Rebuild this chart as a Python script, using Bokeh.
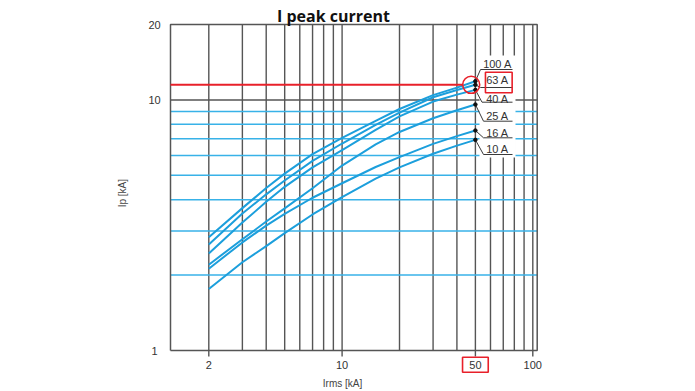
from bokeh.plotting import figure
from bokeh.models import Range1d
from bokeh.core.properties import value
from bokeh.embed import file_html
from bokeh.resources import INLINE
import math

# ---- data ----
irms = [2, 3, 4, 5, 7, 10, 15, 20, 30, 40, 50]
ip_100 = [2.83, 3.70, 4.45, 5.08, 6.08, 7.05, 8.25, 9.2, 10.45, 11.2, 11.88]
ip_63 = [2.65, 3.52, 4.20, 4.77, 5.71, 6.7, 7.95, 8.9, 10.25, 10.95, 11.49]
ip_40 = [2.44, 3.24, 3.92, 4.50, 5.38, 6.31, 7.6, 8.6, 9.85, 10.5, 10.97]
ip_25 = [2.20, 2.78, 3.27, 3.69, 4.44, 5.47, 6.65, 7.45, 8.45, 9.1, 9.59]
ip_16 = [2.12, 2.70, 3.15, 3.51, 4.07, 4.65, 5.40, 5.91, 6.68, 7.17, 7.55]
ip_10 = [1.76, 2.25, 2.61, 2.94, 3.49, 4.09, 4.85, 5.38, 6.1, 6.57, 6.93]
series = [ip_100, ip_63, ip_40, ip_25, ip_16, ip_10]
ratings = ["100 A", "63 A", "40 A", "25 A", "16 A", "10 A"]

x_ticks = [2, 10, 50, 100]
x_tick_labels = ["2", "10", "50", "100"]
y_ticks = [1, 10, 20]
y_tick_labels = ["1", "10", "20"]
x_grid = [2, 3, 4, 5, 6, 7, 8, 9, 10, 20, 30, 40, 50, 60, 70, 80, 90, 100]
y_grid_blue = [2, 3, 4, 5, 6, 7, 8, 9]
y_grid_dark = [10]
highlight_irms = 50
title = "I peak current"
x_label = "Irms [kA]"
y_label = "Ip [kA]"

# ---- geometry (pixel calibration of the log axes) ----
W, H = 695, 391
dec_x = (532.3 - 208.3) / math.log10(50)
lx0 = math.log10(2) - 208.3 / dec_x
dec_y = (350 - 24) / math.log10(20)


def fx(px):
    return 10 ** (lx0 + px / dec_x)


def fy(py):
    return 10 ** ((350 - py) / dec_y)


x_lo, x_hi = fx(170), fx(536.7)
y_lo, y_hi = 1, 20

BLUE = "#1c9fdc"
GRID_BLUE = "#38b2e8"
DARK = "#555555"
TXT = "#333333"
RED = "#e8202a"
FONT = value("Liberation Sans")

p = figure(width=W, height=H, x_axis_type="log", y_axis_type="log",
           x_range=Range1d(fx(0), fx(W)), y_range=Range1d(fy(H), fy(0)),
           x_axis_location=None, y_axis_location=None,
           output_backend="svg", toolbar_location=None, min_border=0)
p.outline_line_color = None
p.background_fill_color = "white"
p.border_fill_color = "white"
p.xgrid.visible = False
p.ygrid.visible = False

# grid lines
p.segment(x0=x_grid, y0=[y_lo] * len(x_grid), x1=x_grid, y1=[y_hi] * len(x_grid),
          line_color=DARK, line_width=1.4)
p.segment(x0=[x_lo] * len(y_grid_blue), y0=y_grid_blue,
          x1=[x_hi] * len(y_grid_blue), y1=y_grid_blue,
          line_color=GRID_BLUE, line_width=1.5)
p.segment(x0=[x_lo] * len(y_grid_dark), y0=y_grid_dark,
          x1=[x_hi] * len(y_grid_dark), y1=y_grid_dark,
          line_color=DARK, line_width=1.4)
# frame box
p.line([x_lo, x_hi, x_hi, x_lo, x_lo], [y_lo, y_lo, y_hi, y_hi, y_lo],
       line_color=DARK, line_width=1.5)
# x tick marks
p.segment(x0=x_ticks, y0=[y_lo] * len(x_ticks), x1=x_ticks,
          y1=[fy(356)] * len(x_ticks), line_color=DARK, line_width=1.4)

# tick labels
p.text(x=x_ticks, y=[fy(364.2)] * len(x_ticks), text=x_tick_labels,
       text_font=FONT, text_font_size="11px", text_color=TXT,
       text_align="center", text_baseline="middle")
p.text(x=[fx(154)] * len(y_ticks), y=y_ticks, text=y_tick_labels,
       text_font=FONT, text_font_size="11px", text_color=TXT,
       text_align="center", text_baseline="middle")

# curves
for s in series:
    p.line(irms, s, line_color=BLUE, line_width=2, line_join="round")

# white mask behind the callout labels
p.quad(left=fx(479), right=fx(515), top=fy(55), bottom=fy(157),
       fill_color="white", line_color=None)

# callouts
ends = [s[-1] for s in series]
text_y = [fy(v) for v in (63, 79.7, 98, 115.3, 132.2, 148.8)]
under_y = [fy(v) for v in (69, 87, 101.7, 120.7, 137.3, 154)]
bend_x = [fx(v) for v in (480, 480, 481.5, 483, 483, 483)]
xs = [[highlight_irms, bx, fx(512)] for bx in bend_x]
ys = [[e, u, u] for e, u in zip(ends, under_y)]
p.multi_line(xs, ys, line_color="#3a3a3a", line_width=1)
p.scatter([highlight_irms] * len(ends), ends, size=3.5, color="#111111")
p.text(x=[fx(497)] * len(ratings), y=text_y, text=ratings,
       text_font=FONT, text_font_size="11px",
       text_color=TXT, text_align="center", text_baseline="middle")

# red highlight
y63 = ip_63[-1]
p.line([x_lo, fx(462.5)], [y63, y63], line_color=RED, line_width=2)
p.scatter([fx(470.7)], [y63], size=17, marker="circle", fill_color=None,
          line_color=RED, line_width=1.6)
p.rect(x=[fx(498.3)], y=[fy(82)], width=26.7, height=20.6, width_units="screen",
       height_units="screen", fill_color=None, line_color=RED, line_width=1.6)
p.rect(x=[highlight_irms], y=[fy(364.2)], width=25.7, height=15,
       width_units="screen", height_units="screen", fill_color=None,
       line_color=RED, line_width=1.6)

# title and axis labels
p.text(x=[fx(333)], y=[fy(15)], text=[title], text_font=value("Open Sans"),
       text_font_style="bold", text_font_size="16px", text_color="#111111",
       text_align="center", text_baseline="middle")
p.text(x=[fx(342)], y=[fy(382.6)], text=[x_label], text_font=FONT,
       text_font_size="10px", text_color="#444444", text_align="center",
       text_baseline="middle")
p.text(x=[fx(121.5)], y=[fy(192.7)], text=[y_label], text_font=FONT,
       text_font_size="10px", text_color="#444444", text_align="center",
       text_baseline="middle", angle=math.pi / 2)

open("out.html", "w").write(file_html(p, INLINE))
